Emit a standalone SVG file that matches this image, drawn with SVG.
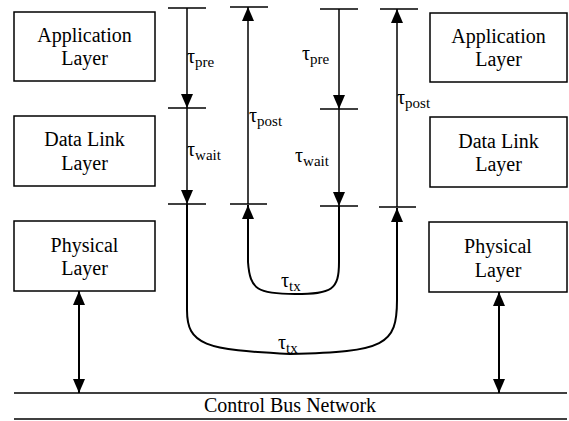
<svg xmlns="http://www.w3.org/2000/svg" width="569" height="421" viewBox="0 0 569 421" font-family="Liberation Serif, serif">
<style>
.box{fill:#fff;stroke:#000;stroke-width:1.5}
text{font-family:"Liberation Serif",serif}
.t{font-size:20px;fill:#000;text-anchor:middle}
.g{font-size:20px;fill:#000}
.s{font-size:15px}
.ln{stroke:#000;stroke-width:1.5;fill:none}
.tk{stroke:#000;stroke-width:1.5}
.cv{stroke:#000;stroke-width:2;fill:none}
</style>
<defs>
<marker id="ah" markerUnits="userSpaceOnUse" markerWidth="14" markerHeight="12" refX="14" refY="6" orient="auto">
<path d="M0,0 L14,6 L0,12 z" fill="#000"/>
</marker>
<marker id="as" markerUnits="userSpaceOnUse" markerWidth="14" markerHeight="12" refX="0" refY="6" orient="auto">
<path d="M14,0 L0,6 L14,12 z" fill="#000"/>
</marker>
</defs>
<rect width="569" height="421" fill="#fff"/>
<g id="app-left"><rect class="box" x="14" y="12" width="141" height="69"/><text class="t" x="84.5" y="42" font-family="Liberation Serif">Application</text><text class="t" x="84.5" y="65" font-family="Liberation Serif">Layer</text></g>
<g id="dll-left"><rect class="box" x="14" y="116" width="141" height="70"/><text class="t" x="84.5" y="146">Data Link</text><text class="t" x="84.5" y="170">Layer</text></g>
<g id="phy-left"><rect class="box" x="14" y="221" width="141" height="70"/><text class="t" x="84.5" y="252">Physical</text><text class="t" x="84.5" y="275">Layer</text></g>
<g id="app-right"><rect class="box" x="430" y="13" width="137" height="69"/><text class="t" x="498.5" y="43">Application</text><text class="t" x="498.5" y="66">Layer</text></g>
<g id="dll-right"><rect class="box" x="430" y="117" width="137" height="70"/><text class="t" x="498.5" y="148">Data Link</text><text class="t" x="498.5" y="171">Layer</text></g>
<g id="phy-right"><rect class="box" x="429" y="222" width="138" height="70"/><text class="t" x="498" y="253">Physical</text><text class="t" x="498" y="277">Layer</text></g>
<g id="bus"><line class="tk" x1="14" y1="393" x2="567" y2="393"/><line class="tk" x1="14" y1="419" x2="567" y2="419"/><text class="t" x="290" y="412">Control Bus Network</text></g>
<g id="connectors">
<line class="tk" x1="168" y1="8" x2="206" y2="8"/>
<line class="tk" x1="168" y1="108" x2="206" y2="108"/>
<line class="tk" x1="168" y1="204" x2="206" y2="204"/>
<line class="tk" x1="230" y1="7" x2="268" y2="7"/>
<line class="tk" x1="230" y1="204" x2="267" y2="204"/>
<line class="tk" x1="320" y1="9" x2="358" y2="9"/>
<line class="tk" x1="320" y1="109" x2="358" y2="109"/>
<line class="tk" x1="320" y1="206" x2="358" y2="206"/>
<line class="tk" x1="380" y1="9" x2="418" y2="9"/>
<line class="tk" x1="379" y1="207" x2="416" y2="207"/>
<line class="ln" x1="187" y1="8" x2="187" y2="108" marker-end="url(#ah)"/>
<line class="ln" x1="187" y1="108" x2="187" y2="204" marker-end="url(#ah)"/>
<line class="ln" x1="248" y1="204" x2="248" y2="7" marker-end="url(#ah)"/>
<line class="ln" x1="339" y1="9" x2="339" y2="109" marker-end="url(#ah)"/>
<line class="ln" x1="339" y1="109" x2="339" y2="206" marker-end="url(#ah)"/>
<line class="ln" x1="397" y1="207" x2="397" y2="9" marker-end="url(#ah)"/>
<path class="cv" d="M339,206 L339,262 C339,290 332,294 295,294 C258,294 250,290 248,262 L248,205" marker-end="url(#ah)"/>
<path class="cv" d="M187,204 L187,310 C187,345 205,350 290,354 C385,352 397,345 397,300 L397,208" marker-end="url(#ah)"/>
<line class="cv" x1="79" y1="291" x2="79" y2="393" marker-start="url(#as)" marker-end="url(#ah)"/>
<line class="cv" x1="499" y1="292" x2="499" y2="393" marker-start="url(#as)" marker-end="url(#ah)"/>
</g>
<g id="labels">
<text class="g" x="187" y="63">τ<tspan class="s" dy="4">pre</tspan></text>
<text class="g" x="187" y="156">τ<tspan class="s" dy="4">wait</tspan></text>
<text class="g" x="249" y="122">τ<tspan class="s" dy="4">post</tspan></text>
<text class="g" x="302" y="60">τ<tspan class="s" dy="4">pre</tspan></text>
<text class="g" x="295" y="162">τ<tspan class="s" dy="4">wait</tspan></text>
<text class="g" x="397" y="104">τ<tspan class="s" dy="4">post</tspan></text>
<text class="g" x="281" y="287">τ<tspan class="s" dy="4">tx</tspan></text>
<text class="g" x="278" y="349">τ<tspan class="s" dy="4">tx</tspan></text>
</g>
</svg>
